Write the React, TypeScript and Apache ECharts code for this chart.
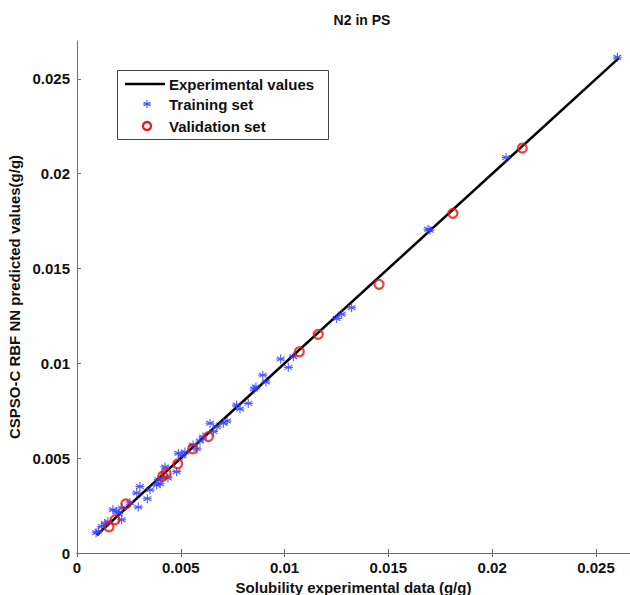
import React, { useEffect, useRef } from "react";
import * as echarts from "echarts";

const titleText = "N2 in PS";
const xAxisName = "Solubility experimental data (g/g)";
const yAxisName = "CSPSO-C RBF NN predicted values(g/g)";
const legendNames = ["Experimental values", "Training set", "Validation set"];

const expLineX = [0.00095, 0.0261];
const expLineY = [0.00095, 0.0261];

const trainX = [
  0.00092, 0.00103, 0.00119, 0.00135, 0.00149, 0.00173, 0.00191, 0.00202, 0.00215, 0.00217,
  0.00255, 0.00288, 0.00303, 0.00295, 0.00339, 0.00352, 0.00384, 0.00392, 0.004, 0.00409,
  0.00424, 0.00438, 0.0048, 0.00488, 0.00506, 0.0052, 0.00559, 0.00578, 0.00592, 0.00607,
  0.00641, 0.00657, 0.00674, 0.00705, 0.00723, 0.00769, 0.00785, 0.00825, 0.00853, 0.00862,
  0.00895, 0.0091, 0.00981, 0.01018, 0.01042, 0.01251, 0.01275, 0.01323, 0.01691, 0.017,
  0.02067, 0.02603,
];
const trainY = [
  0.00107, 0.00114, 0.0014, 0.00154, 0.00165, 0.00228, 0.00219, 0.00207, 0.00175, 0.00238,
  0.00265, 0.00316, 0.00351, 0.00242, 0.00286, 0.00333, 0.00359, 0.00386, 0.00365, 0.00396,
  0.00454, 0.00396, 0.00429, 0.00526, 0.00512, 0.00533, 0.0057, 0.00549, 0.00591, 0.00612,
  0.00684, 0.0064, 0.00665, 0.00684, 0.00696, 0.0078, 0.00759, 0.00789, 0.00865, 0.00875,
  0.00938, 0.00902, 0.01023, 0.00979, 0.01035, 0.01237, 0.01259, 0.01293, 0.01707, 0.01702,
  0.02086, 0.02614,
];

const validX = [0.00154, 0.00183, 0.00235, 0.00413, 0.00429, 0.00485, 0.00557, 0.00633, 0.01071, 0.01162, 0.01455, 0.01811, 0.02145];
const validY = [0.00138, 0.00175, 0.00259, 0.00405, 0.00421, 0.0047, 0.00549, 0.00614, 0.01061, 0.01153, 0.01417, 0.01791, 0.02135];

const tickValues = [0, 0.005, 0.01, 0.015, 0.02, 0.025];

const FONT = "'Liberation Sans', Arial, Helvetica, sans-serif";
const STAR = "path://M0,-5L0,5M-4.33,-2.5L4.33,2.5M-4.33,2.5L4.33,-2.5M-5,0L5,0";
const BLUE = "#2f3dff";
const RED = "#ee1111";

function fmt(v: number) {
  const found = tickValues.find((t) => Math.abs(t - v) < 1e-9);
  if (found === undefined) return "";
  return found === 0 ? "0" : String(found);
}

export default function App() {
  const ref = useRef<HTMLDivElement>(null);
  useEffect(() => {
    if (!ref.current) return;
    const chart = echarts.init(ref.current, null, { renderer: "svg" });
    const axisCommon = {
      type: "value" as const,
      min: 0,
      max: 0.02664,
      interval: 0.005,
      splitLine: { show: false },
      axisLine: { show: true, lineStyle: { color: "#6e6e6e", width: 1 } },
      axisTick: { show: true, inside: true, length: 4, lineStyle: { color: "#6e6e6e" } },
    };
    const yCommon = { ...axisCommon, max: 0.027 };
    const labelStyle = {
      fontFamily: FONT,
      fontWeight: "bold" as const,
      fontSize: 15,
      color: "#111",
      formatter: fmt,
    };
    chart.setOption({
      animation: false,
      backgroundColor: "#fff",
      title: {
        text: titleText,
        left: 357,
        textAlign: "center",
        top: 8,
        textStyle: { fontFamily: FONT, fontWeight: "bold", fontSize: 14, color: "#111" },
      },
      grid: { left: 77, top: 41, width: 553, height: 512, outerBoundsMode: "none", containLabel: false },
      xAxis: [
        {
          ...axisCommon,
          position: "bottom",
          name: xAxisName,
          nameLocation: "middle",
          nameGap: 22,
          nameTextStyle: { fontFamily: FONT, fontWeight: "bold", fontSize: 15, color: "#111" },
          axisLabel: { ...labelStyle, margin: 7, showMaxLabel: false },
        },
        { ...axisCommon, position: "top", axisLabel: { show: false } },
      ],
      yAxis: [
        {
          ...yCommon,
          position: "left",
          name: yAxisName,
          nameLocation: "middle",
          nameGap: 50,
          nameTextStyle: { fontFamily: FONT, fontWeight: "bold", fontSize: 15, color: "#111" },
          axisLabel: { ...labelStyle, margin: 7, showMaxLabel: false },
        },
        {
          ...yCommon,
          position: "right",
          axisLine: { show: false },
          axisTick: { show: false },
          axisLabel: { show: false },
        },
      ],
      series: [
        {
          name: legendNames[0],
          type: "line",
          data: expLineX.map((x, i) => [x, expLineY[i]]),
          symbol: "none",
          lineStyle: { color: "#000", width: 2.5 },
          z: 2,
        },
        {
          name: legendNames[1],
          type: "scatter",
          data: trainX.map((x, i) => [x, trainY[i]]),
          symbol: STAR,
          symbolSize: 9,
          itemStyle: { color: "transparent", borderColor: BLUE, borderWidth: 1.1, opacity: 0.85 },
          z: 3,
        },
        {
          name: legendNames[2],
          type: "scatter",
          data: validX.map((x, i) => [x, validY[i]]),
          symbol: "circle",
          symbolSize: 9,
          itemStyle: { color: "transparent", borderColor: RED, borderWidth: 2.2 },
          z: 4,
        },
      ],
      graphic: [
        {
          type: "rect",
          shape: { x: 117.5, y: 70.5, width: 211, height: 69 },
          style: { fill: "#fff", stroke: "#444", lineWidth: 1 },
          z: 10,
        },
        {
          type: "line",
          shape: { x1: 125, y1: 84, x2: 165, y2: 84 },
          style: { stroke: "#000", lineWidth: 2.5 },
          z: 11,
        },
        { type: "line", z: 11, shape: { x1: 147, y1: 100, x2: 147, y2: 108 }, style: { stroke: BLUE, lineWidth: 1 } },
        { type: "line", z: 11, shape: { x1: 143, y1: 104, x2: 151, y2: 104 }, style: { stroke: BLUE, lineWidth: 1 } },
        { type: "line", z: 11, shape: { x1: 143.6, y1: 102, x2: 150.4, y2: 106 }, style: { stroke: BLUE, lineWidth: 1 } },
        { type: "line", z: 11, shape: { x1: 143.6, y1: 106, x2: 150.4, y2: 102 }, style: { stroke: BLUE, lineWidth: 1 } },
        {
          type: "circle",
          shape: { cx: 147, cy: 126, r: 4 },
          style: { fill: "none", stroke: RED, lineWidth: 2.2 },
          z: 11,
        },
        ...legendNames.map((n, i) => ({
          type: "text",
          x: 169,
          y: [84, 104, 126][i],
          style: {
            text: n,
            fontFamily: FONT,
            fontWeight: "bold",
            fontSize: 15,
            fill: "#111",
            verticalAlign: "middle",
          },
          z: 11,
        })),
      ],
    });
    return () => chart.dispose();
  }, []);
  return (
    <div
      ref={ref}
      style={{ width: 630, height: 595, position: "absolute", left: 0, top: 0, overflow: "hidden" }}
    />
  );
}
